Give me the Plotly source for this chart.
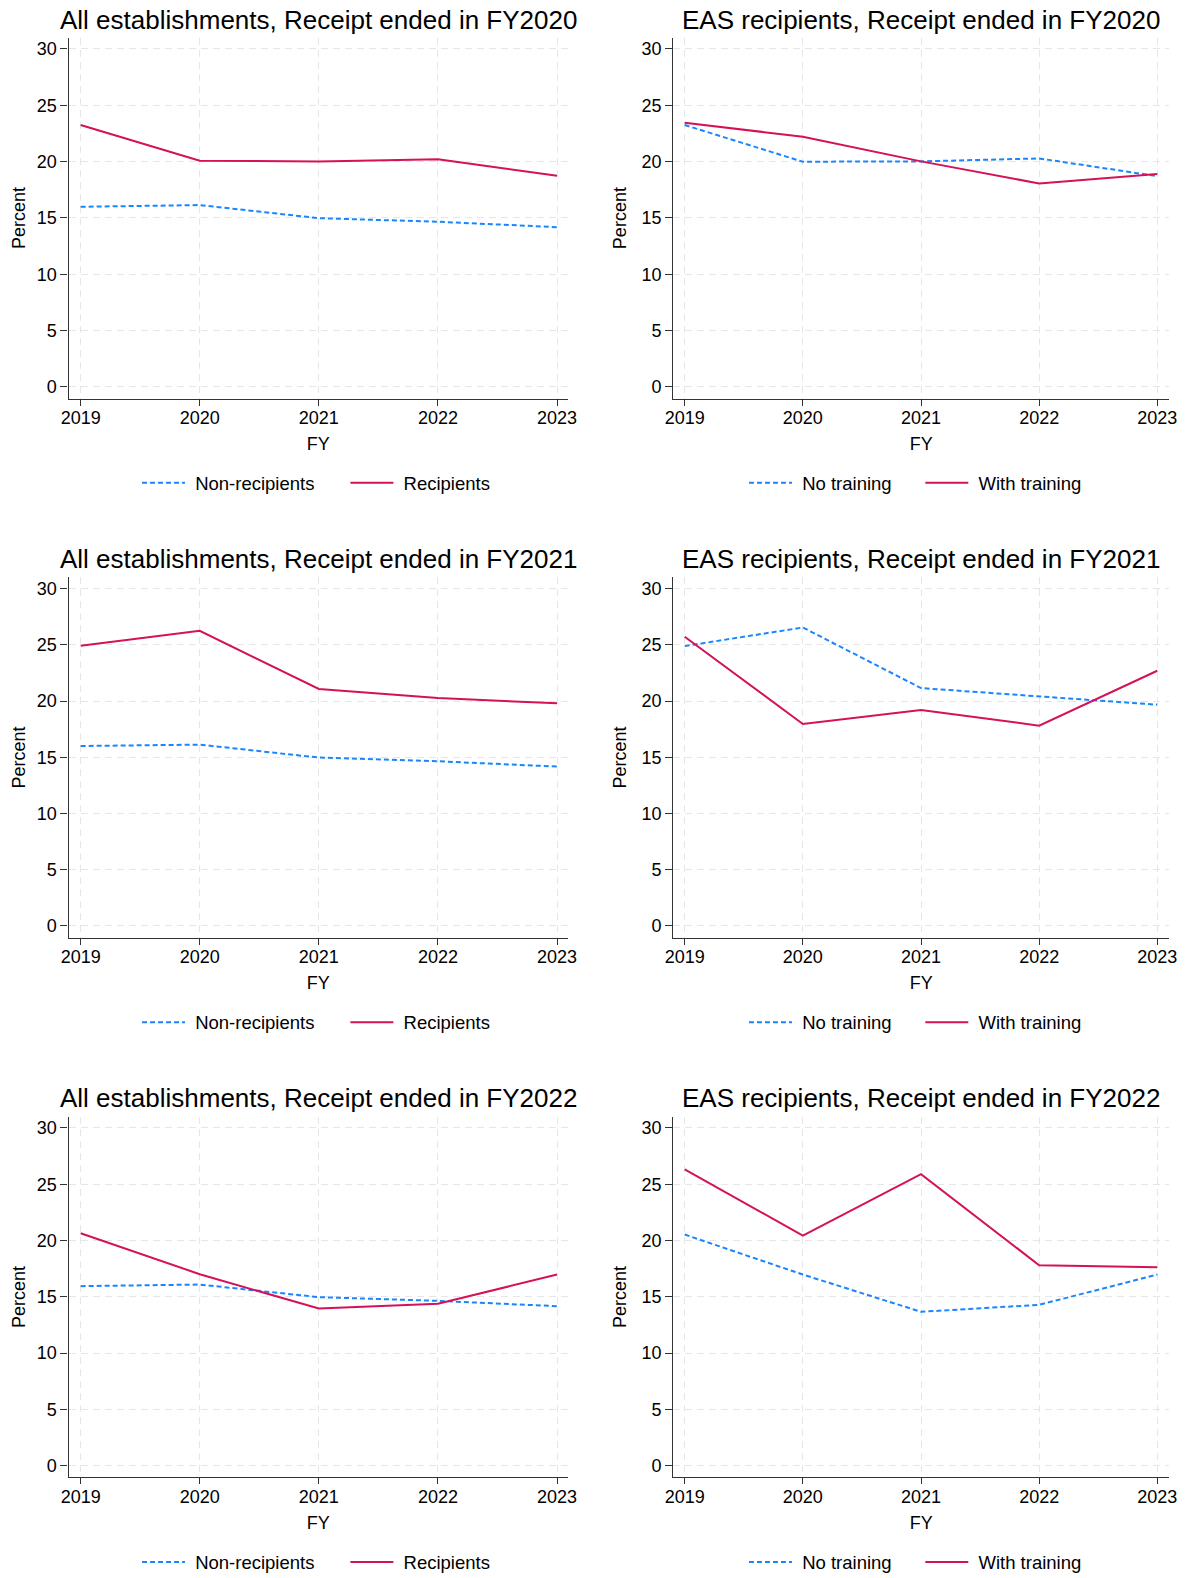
import plotly.graph_objects as go

# ---------------- data ----------------
years = [2019, 2020, 2021, 2022, 2023]
y_ticks = [0, 5, 10, 15, 20, 25, 30]

# All establishments panels
nonrecip_fy2020 = [15.99, 16.14, 14.98, 14.66, 14.18]
recip_fy2020 = [23.25, 20.08, 20.02, 20.20, 18.75]
nonrecip_fy2021 = [16.00, 16.12, 14.97, 14.64, 14.17]
recip_fy2021 = [24.91, 26.24, 21.07, 20.27, 19.79]
nonrecip_fy2022 = [15.95, 16.09, 14.97, 14.64, 14.17]
recip_fy2022 = [20.65, 17.01, 13.96, 14.38, 16.98]

# EAS recipients panels
notrain_fy2020 = [23.25, 19.99, 20.02, 20.28, 18.71]
withtrain_fy2020 = [23.45, 22.21, 20.02, 18.06, 18.89]
notrain_fy2021 = [24.88, 26.54, 21.15, 20.38, 19.67]
withtrain_fy2021 = [25.71, 17.96, 19.20, 17.81, 22.69]
notrain_fy2022 = [20.53, 16.98, 13.67, 14.29, 16.98]
withtrain_fy2022 = [26.33, 20.44, 25.89, 17.81, 17.63]

titles = [
    "All establishments, Receipt ended in FY2020",
    "EAS recipients, Receipt ended in FY2020",
    "All establishments, Receipt ended in FY2021",
    "EAS recipients, Receipt ended in FY2021",
    "All establishments, Receipt ended in FY2022",
    "EAS recipients, Receipt ended in FY2022",
]
series_names = [
    ("Non-recipients", "Recipients"),
    ("No training", "With training"),
] * 3
series_values = [
    (nonrecip_fy2020, recip_fy2020),
    (notrain_fy2020, withtrain_fy2020),
    (nonrecip_fy2021, recip_fy2021),
    (notrain_fy2021, withtrain_fy2021),
    (nonrecip_fy2022, recip_fy2022),
    (notrain_fy2022, withtrain_fy2022),
]

# ---------------- style ----------------
W, H = 1187, 1578
FONT = "Liberation Sans, Arial, Helvetica, sans-serif"
BLUE = "#1A85FF"
RED = "#D41159"
AXIS = "#333333"
GRID = "#e6e6e6"
NB = "\u00a0"

col_px = [(68.5, 568.0), (673.3, 1169.3)]
col_xrange = [[2018.898, 2023.092], [2018.9035, 2023.1016]]
col_ystandoff = [6, 10]
row_px = [(37.7, 398.5), (577.3, 937.5), (1116.7, 1477.3)]
title_px = [20.0, 559.3, 1098.3]
legend_px = [483.3, 1022.7, 1562.5]
legend_left = [143.0 - 6, 750.0 - 6]
legend_entry = [208.4 - 58, 176.3 - 58]

fig = go.Figure()
layout = dict(
    width=W, height=H,
    margin=dict(l=0, r=0, t=0, b=0, autoexpand=False),
    paper_bgcolor="white", plot_bgcolor="white",
    font=dict(family=FONT, size=18, color="black"),
    annotations=[],
)

for i in range(6):
    r, c = divmod(i, 2)
    k = i + 1
    xa = "x" if k == 1 else f"x{k}"
    ya = "y" if k == 1 else f"y{k}"
    lg = "legend" if k == 1 else f"legend{k}"
    n1, n2 = series_names[i]
    v1, v2 = series_values[i]
    fig.add_trace(go.Scatter(x=years, y=v1, name=NB + n1, mode="lines",
                             line=dict(color=BLUE, width=2, dash="5px,3px"),
                             xaxis=xa, yaxis=ya, legend=lg))
    fig.add_trace(go.Scatter(x=years, y=v2, name=NB + n2, mode="lines",
                             line=dict(color=RED, width=2),
                             xaxis=xa, yaxis=ya, legend=lg))
    x0, x1 = col_px[c]
    y0, y1 = row_px[r]
    xdom = [x0 / W, x1 / W]
    ydom = [1 - y1 / H, 1 - y0 / H]
    xkey = "xaxis" if k == 1 else f"xaxis{k}"
    ykey = "yaxis" if k == 1 else f"yaxis{k}"
    layout[xkey] = dict(
        domain=xdom, anchor=ya, range=col_xrange[c], automargin=False,
        tickmode="array", tickvals=years, ticktext=[str(v) for v in years],
        ticks="outside", ticklen=6, tickwidth=1.2, tickcolor=AXIS,
        showline=True, linecolor=AXIS, linewidth=1.2,
        showgrid=True, gridcolor=GRID, gridwidth=1, griddash="7px,5px",
        zeroline=False, tickfont=dict(size=18, color="black"),
        ticklabelstandoff=-3,
        title=dict(text="FY", font=dict(size=18, color="black"), standoff=10),
    )
    layout[ykey] = dict(
        domain=ydom, anchor=xa, range=[-1.03, 31.0], automargin=False,
        tickmode="array", tickvals=y_ticks, ticktext=[str(v) for v in y_ticks],
        ticks="outside", ticklen=7, tickwidth=1.2, tickcolor=AXIS,
        showline=True, linecolor=AXIS, linewidth=1.2,
        showgrid=True, gridcolor=GRID, gridwidth=1, griddash="7px,5px",
        zeroline=False, tickfont=dict(size=18, color="black"),
        title=dict(text="Percent", font=dict(size=18, color="black"),
                   standoff=col_ystandoff[c]),
    )
    layout[lg] = dict(
        orientation="h", x=legend_left[c] / W, xanchor="left",
        y=1 - legend_px[r] / H, yanchor="middle",
        font=dict(size=18.5, color="black"), bgcolor="rgba(0,0,0,0)",
        traceorder="normal", itemwidth=43,
        entrywidth=legend_entry[c], entrywidthmode="pixels",
    )
    layout["annotations"].append(dict(
        text=titles[i], xref="paper", yref="paper",
        x=(x0 + x1) / 2 / W, y=1 - title_px[r] / H,
        xanchor="center", yanchor="middle", showarrow=False,
        font=dict(size=26, color="black", family=FONT),
    ))

fig.update_layout(**layout)
fig.write_html("out.html")
